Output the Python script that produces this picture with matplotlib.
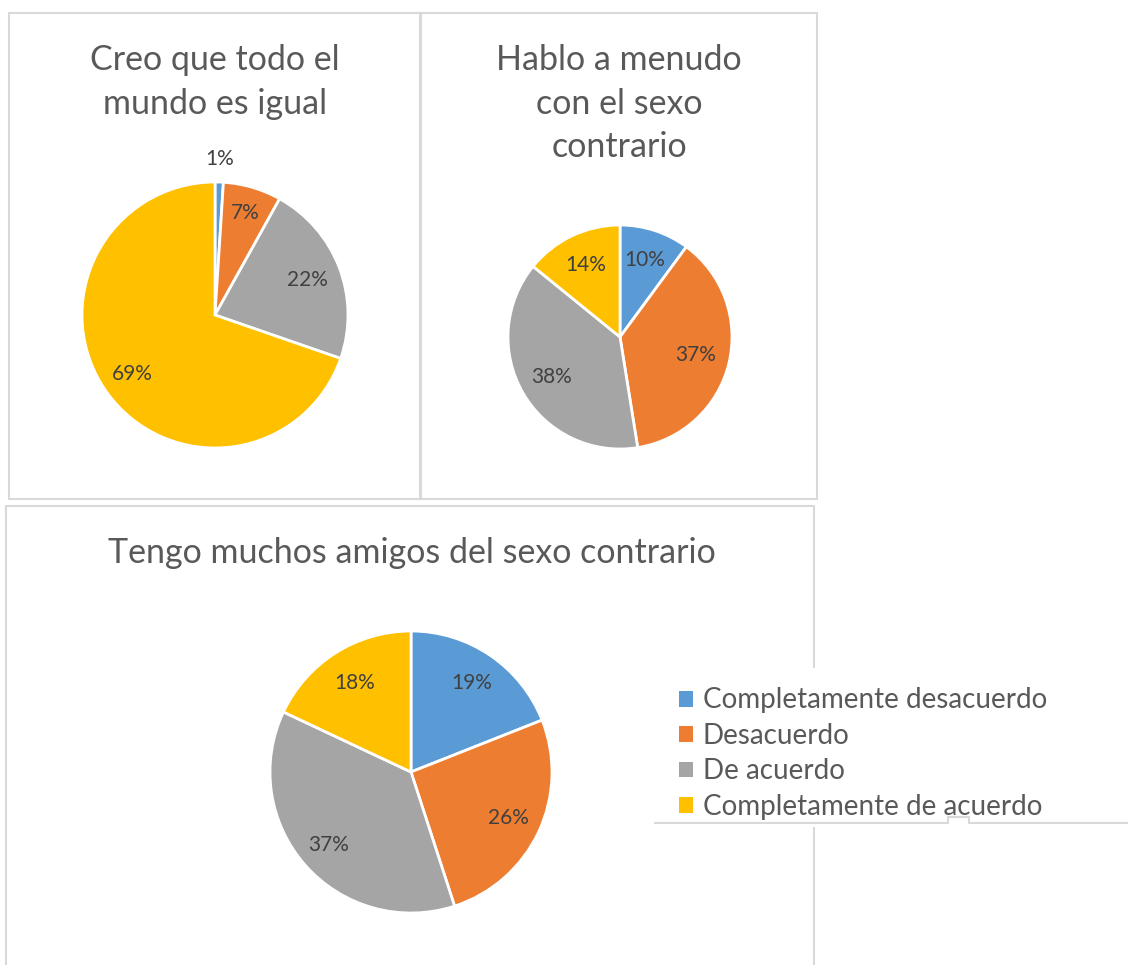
"""Three pie charts (survey answers) with a shared legend."""

import matplotlib
matplotlib.use("Agg")
import numpy as np
import matplotlib.pyplot as plt
from matplotlib.patches import Rectangle, Patch

categories = ["Completamente desacuerdo", "Desacuerdo", "De acuerdo",
              "Completamente de acuerdo"]
colors = ["#5B9BD5", "#ED7D31", "#A5A5A5", "#FFC000"]

titles = ["Creo que todo el\nmundo es igual",
          "Hablo a menudo\ncon el sexo\ncontrario",
          "Tengo muchos amigos del sexo contrario"]
mundo_igual = [1, 7, 22, 69]
hablo_menudo = [10, 37, 38, 14]
muchos_amigos = [19, 26, 37, 18]

W, H = 1128, 965
FONT = ["Lato", "DejaVu Sans"]
TITLE_C = "#595959"
LABEL_C = "#404040"
BORDER_C = "#D9D9D9"

fig = plt.figure(figsize=(W / 100, H / 100), dpi=100)


def fx(x):
    return x / W


def fy(y):
    return 1 - y / H


def panel(x0, y0, x1, y1):
    fig.patches.append(Rectangle((fx(x0), fy(y1)), fx(x1 - x0), (y1 - y0) / H,
                                 transform=fig.transFigure, fill=False,
                                 edgecolor=BORDER_C, linewidth=1.5, zorder=0))


def pie(values, cx, cy, r, dists):
    ax = fig.add_axes([fx(cx - r), fy(cy + r), 2 * r / W, 2 * r / H])
    ax.set_zorder(2)
    wedges, _, autotexts = ax.pie(
        values, colors=colors, startangle=90, counterclock=False,
        autopct="%.0f%%", pctdistance=0.75,
        wedgeprops=dict(edgecolor="white", linewidth=2),
        textprops=dict(fontsize=15, color=LABEL_C, family=FONT))
    # label text = the rounded value as shown in the sheet; place along bisector
    for w, t, v, d in zip(wedges, autotexts, values, dists):
        ang = np.deg2rad((w.theta1 + w.theta2) / 2)
        t.set_position((d * np.cos(ang), d * np.sin(ang)))
        t.set_text(f"{v}%")
    ax.set_xlim(-1, 1)
    ax.set_ylim(-1, 1)
    ax.set_axis_off()
    return ax


panel(9, 13, 420, 499)
panel(421, 13, 817, 499)
panel(6, 506, 814, 990)

pie(mundo_igual, 215, 315, 133, [1.17, 0.8, 0.74, 0.76])
pie(hablo_menudo, 620, 337, 112, [0.72, 0.69, 0.71, 0.71])
pie(muchos_amigos, 411, 772, 141, [0.76, 0.76, 0.78, 0.75])

fig.text(fx(215), fy(44), titles[0], ha="center", va="top", fontsize=24.5,
         color=TITLE_C, family=FONT, linespacing=1.45)
fig.text(fx(619), fy(44), titles[1], ha="center", va="top", fontsize=24.5,
         color=TITLE_C, family=FONT, linespacing=1.45)
fig.text(fx(412), fy(537), titles[2], ha="center", va="top", fontsize=24.5,
         color=TITLE_C, family=FONT)

# legend box sits over the bottom panel's right border
lax = fig.add_axes([fx(655), fy(827), fx(1128 - 655), (827 - 668) / H])
lax.set_zorder(3)
lax.set_axis_off()
lax.set_xlim(655, 1128)
lax.set_ylim(827, 668)
lax.add_patch(Rectangle((655, 668), 473, 159, facecolor="white",
                        edgecolor="none"))
lax.plot([655, 948, 948, 969, 969, 1128], [823, 823, 817, 817, 823, 823],
         color=BORDER_C, lw=1.5, clip_on=False)
handles = [Patch(facecolor=c, edgecolor="none") for c in colors]
lax.legend(handles, categories, loc="upper left", bbox_to_anchor=(0.01, 1.0),
           frameon=False, prop=dict(family=FONT, size=20), labelcolor=TITLE_C,
           handlelength=0.5, handleheight=0.5, handletextpad=0.35,
           labelspacing=0.34, borderpad=0.2)

fig.savefig("out.png", dpi=100)
